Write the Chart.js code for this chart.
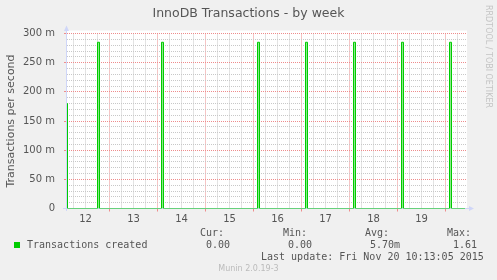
<!DOCTYPE html>
<html lang="en">
<head>
<meta charset="UTF-8">
<title>InnoDB Transactions - by week</title>
<script src="https://cdn.jsdelivr.net/npm/chart.js"></script>
<style>
  body { margin: 0; background: #f0f0f0; }
  #wrap { position: relative; width: 497px; height: 280px; font-family: "DejaVu Sans", sans-serif; color: #555; }
  #wrap canvas { position: absolute; left: 0; top: 0; }
  .t { position: absolute; white-space: pre; line-height: 1; }
  .mono { font-family: "DejaVu Sans Mono", monospace; font-size: 10px; }
</style>
</head>
<body>
<div id="wrap">
  <canvas id="chart" width="497" height="280"></canvas>
  <div class="t" style="left:0;width:497px;top:7px;text-align:center;font-size:12.5px;">InnoDB Transactions - by week</div>
  <div class="t" style="left:484px;top:5px;font-size:8px;color:#c4c4c4;writing-mode:vertical-rl;">RRDTOOL / TOBI OETIKER</div>

  <div class="t mono" style="left:200px;top:228px;">Cur:</div>
  <div class="t mono" style="left:283px;top:228px;">Min:</div>
  <div class="t mono" style="left:365px;top:228px;">Avg:</div>
  <div class="t mono" style="left:447px;top:228px;">Max:</div>

  <div style="position:absolute;left:14px;top:242px;width:6px;height:6px;background:#00cc00;"></div>
  <div class="t mono" style="left:27px;top:239.5px;">Transactions created</div>
  <div class="t mono" style="left:206px;top:239.5px;">0.00</div>
  <div class="t mono" style="left:288px;top:239.5px;">0.00</div>
  <div class="t mono" style="left:370px;top:239.5px;">5.70m</div>
  <div class="t mono" style="left:453px;top:239.5px;">1.61</div>

  <div class="t mono" style="left:261px;top:251.5px;">Last update: Fri Nov 20 10:13:05 2015</div>
  <div class="t" style="left:0;width:497px;top:265px;text-align:center;font-size:8px;color:#bbb;">Munin 2.0.19-3</div>
</div>

<script>
// hours counted from Nov 12 00:00, values in milli-transactions per second
// (each value holds until the next hour mark: stepped line)
const hours        = [2.75, 3, 18, 19, 50, 51, 98, 99, 122, 123, 146, 147, 170, 171, 194, 195, 201.75];
const transactions = [180,  0, 285, 0, 285, 0, 285, 0, 285,  0,   285,  0,   285,  0,   285,  0,   0];

const xTickHours  = [12, 36, 60, 84, 108, 132, 156, 180];
const xTickLabels = ['12', '13', '14', '15', '16', '17', '18', '19'];
const yTickValues = [0, 50, 100, 150, 200, 250, 300];
const yTickLabels = ['0', '50 m', '100 m', '150 m', '200 m', '250 m', '300 m'];

const MAJOR = 'rgb(238, 140, 140)';
const MINOR = 'rgb(200, 200, 200)';
const AXIS = '#cfd6f8';

function isMajor(c, step) {
  return !!(c.tick && Math.round(c.tick.value) % step === 0);
}

// white canvas area and rrdtool-style axes with arrows
const frame = {
  id: 'frame',
  beforeDraw(chart) {
    const { ctx, chartArea: a } = chart;
    ctx.save();
    ctx.fillStyle = '#ffffff';
    ctx.fillRect(a.left, a.top - 3, a.right - a.left, a.bottom - a.top + 3);
    ctx.restore();
  },
  beforeDatasetsDraw(chart) {
    const { ctx } = chart;
    const x0 = 66.5, y0 = 208.5;
    ctx.save();
    ctx.strokeStyle = AXIS;
    ctx.fillStyle = AXIS;
    ctx.lineWidth = 1;
    ctx.beginPath();
    ctx.moveTo(63, y0); ctx.lineTo(469, y0);
    ctx.moveTo(x0, 211); ctx.lineTo(x0, 31);
    ctx.stroke();
    ctx.beginPath();
    ctx.moveTo(474, y0); ctx.lineTo(469, y0 - 2.5); ctx.lineTo(469, y0 + 2.5); ctx.closePath();
    ctx.fill();
    ctx.beginPath();
    ctx.moveTo(x0, 25.5); ctx.lineTo(x0 - 2.5, 31); ctx.lineTo(x0 + 2.5, 31); ctx.closePath();
    ctx.fill();
    ctx.restore();
  }
};

new Chart(document.getElementById('chart'), {
  type: 'line',
  data: {
    datasets: [{
      label: 'Transactions created',
      data: hours.map((h, i) => ({ x: h, y: transactions[i] })),
      borderColor: '#00cc00',
      backgroundColor: 'rgba(0, 204, 0, 0.45)',
      borderWidth: 1,
      pointRadius: 0,
      stepped: true,
      fill: 'origin'
    }]
  },
  options: {
    responsive: false,
    animation: false,
    events: [],
    layout: { padding: { top: 33.5, right: 30, left: 0, bottom: 0 } },
    plugins: { legend: { display: false }, title: { display: false }, tooltip: { enabled: false } },
    scales: {
      x: {
        type: 'linear',
        min: 2.75,
        max: 202.75,
        afterFit(scale) { scale.height = 71.5; },
        afterBuildTicks(scale) {
          const t = [];
          for (let h = 6; h < 202.75; h += 6) t.push({ value: h });
          scale.ticks = t;
        },
        border: { display: false, dash: [1, 1] },
        grid: {
          color: c => isMajor(c, 24) ? MAJOR : MINOR,
          tickColor: c => isMajor(c, 24) ? MAJOR : 'rgba(0,0,0,0)',
          tickLength: 3,
          lineWidth: 1
        },
        ticks: {
          autoSkip: false,
          maxRotation: 0,
          padding: 2,
          color: '#555',
          font: { family: 'DejaVu Sans', size: 10 },
          callback: v => { const i = xTickHours.indexOf(v); return i >= 0 ? xTickLabels[i] : ''; }
        }
      },
      y: {
        min: 0,
        max: 300,
        afterFit(scale) { scale.width = 67; },
        afterBuildTicks(scale) {
          const t = [];
          for (let v = 0; v <= 300; v += 10) t.push({ value: v });
          scale.ticks = t;
        },
        border: { display: false, dash: [1, 1] },
        grid: {
          color: c => isMajor(c, 50) ? MAJOR : MINOR,
          tickColor: c => isMajor(c, 50) ? MAJOR : 'rgba(0,0,0,0)',
          tickLength: 3,
          lineWidth: 1
        },
        ticks: {
          autoSkip: false,
          padding: 9,
          color: '#555',
          font: { family: 'DejaVu Sans', size: 10 },
          callback: v => { const i = yTickValues.indexOf(v); return i >= 0 ? yTickLabels[i] : ''; }
        },
        title: {
          display: true,
          text: 'Transactions per second',
          color: '#555',
          font: { family: 'DejaVu Sans', size: 11 },
          padding: { top: 4.5, bottom: 0 }
        }
      }
    }
  },
  plugins: [frame]
});
</script>
</body>
</html>
